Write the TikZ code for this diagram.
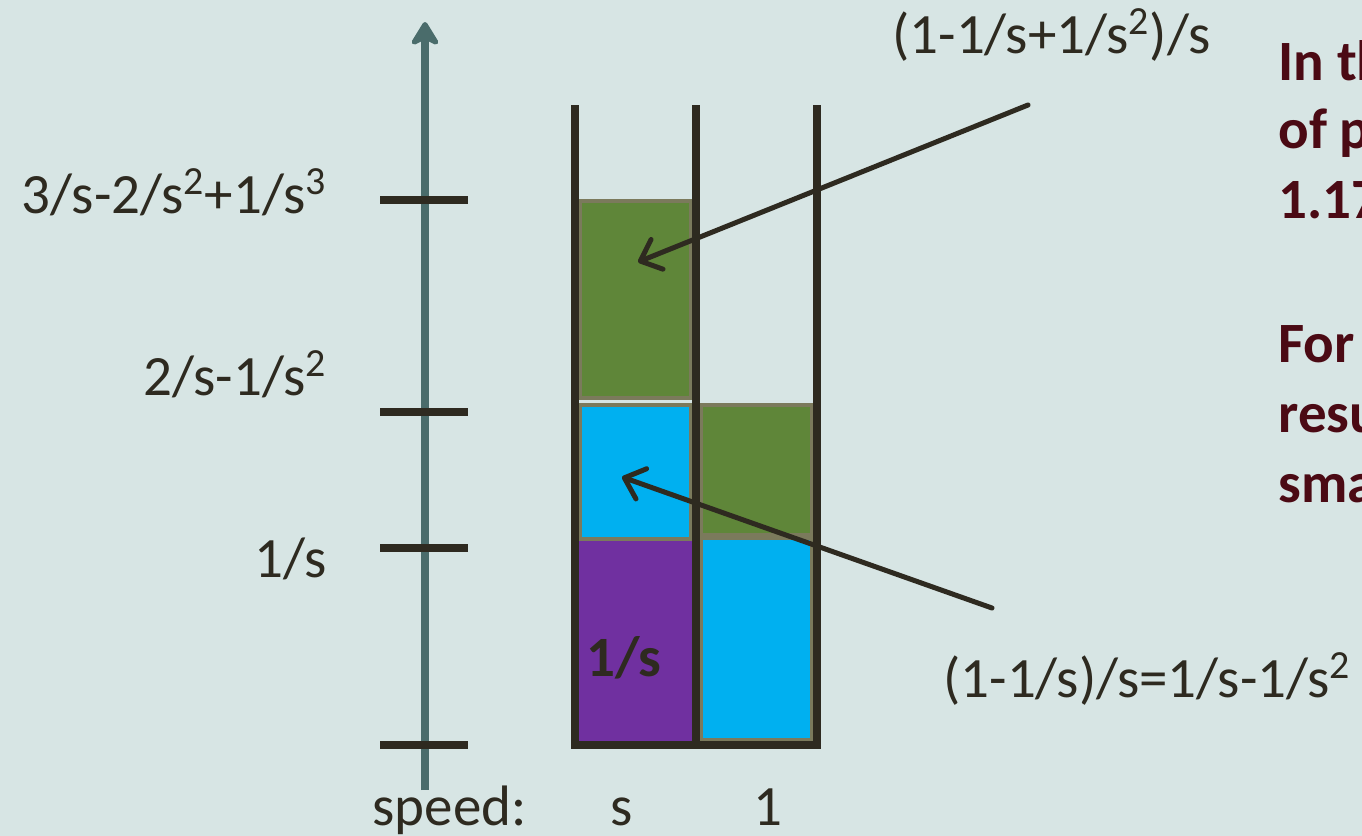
\documentclass[tikz,border=0pt]{standalone}
\usepackage{fontspec}
\setmainfont{Carlito}
\usetikzlibrary{arrows.meta}
\definecolor{bgc}{HTML}{D7E5E4}
\definecolor{axisc}{HTML}{4A6C6B}
\definecolor{ink}{HTML}{2E2A20}
\definecolor{jobp}{HTML}{7030A0}
\definecolor{jobb}{HTML}{00B0F0}
\definecolor{jobg}{HTML}{5F8639}
\definecolor{rim}{HTML}{7B7A5C}
\definecolor{note}{HTML}{4B0A14}

\begin{document}
\begin{tikzpicture}[x=0.5pt, y=-0.5pt, every node/.style={font=\fontsize{28.5}{34}\selectfont, text=ink, inner sep=0pt}]
  \tikzstyle{tick}=[draw=ink, line width=4pt]
  \tikzstyle{wall}=[draw=ink, line width=4pt]
  \tikzstyle{job}=[draw=rim, line width=2pt]
  \tikzstyle{pointer}=[draw=ink, line width=2.5pt, line cap=round, -{Straight Barb[round, length=9pt, width=16pt]}]
  \tikzstyle{remark}=[font=\fontsize{28.5}{34}\selectfont\bfseries, text=note, anchor=base west]
  \clip (0,0) rectangle (1362,836);
  \fill[bgc] (0,0) rectangle (1362,836);
  % time axis
  \coordinate (axbot) at (425,790);
  \coordinate (axtop) at (425,22);
  \draw[axisc, line width=4pt, -{Stealth[round, length=14pt, width=17pt, inset=4pt]}] (axbot) -- (axtop);
  \foreach \y in {200,412,548,745}{
    \draw[tick] (380,\y) -- (468,\y);
  }
  \node[anchor=base east] (l3) at (327,213) {3/s-2/s\textsuperscript{2}+1/s\textsuperscript{3}};
  \node[anchor=base east] (l2) at (327,395) {2/s-1/s\textsuperscript{2}};
  \node[anchor=base east] (l1) at (327,577) {1/s};
  % jobs on the two machines
  \fill[jobp] (579,540) rectangle (692,742);
  \filldraw[job, fill=jobb] (580,405) rectangle (691,539);
  \filldraw[job, fill=jobg] (580,201) rectangle (691,398);
  \filldraw[job, fill=jobg] (701,405) rectangle (812,535);
  \filldraw[job, fill=jobb] (701,538) rectangle (812,740);
  \node[font=\fontsize{28.5}{34}\selectfont\bfseries, anchor=base west] (first) at (586,676) {1/s};
  % machines
  \draw[wall] (575,105) -- (575,745) -- (817,745) -- (817,105);
  \draw[wall] (696,105) -- (696,745);
  % speeds
  \node[anchor=base west] (speed) at (372,825) {speed:};
  \node[anchor=base] (sfast) at (622,825) {s};
  \node[anchor=base] (sslow) at (768,825) {1};
  % pointers
  \node[anchor=base west] (lab3) at (892,53) {(1-1/s+1/s\textsuperscript{2})/s};
  \node[anchor=base west] (lab2) at (943,697) {(1-1/s)/s=1/s-1/s\textsuperscript{2}};
  \coordinate (src3) at (1028,105);
  \coordinate (tip3) at (638,262);
  \coordinate (src2) at (992,608);
  \coordinate (tip2) at (622,477);
  \draw[pointer] (src3) -- (tip3);
  \draw[pointer] (src2) -- (tip2);
  % remarks on the right
  \node[remark] (r1) at (1278,80) {In th};
  \node[remark] (r2) at (1278,148) {of p};
  \node[remark] (r3) at (1278,218) {1.17};
  \node[remark] (r4) at (1278,362) {For};
  \node[remark] (r5) at (1278,432) {resu};
  \node[remark] (r6) at (1278,502) {sma};
\end{tikzpicture}
\end{document}
